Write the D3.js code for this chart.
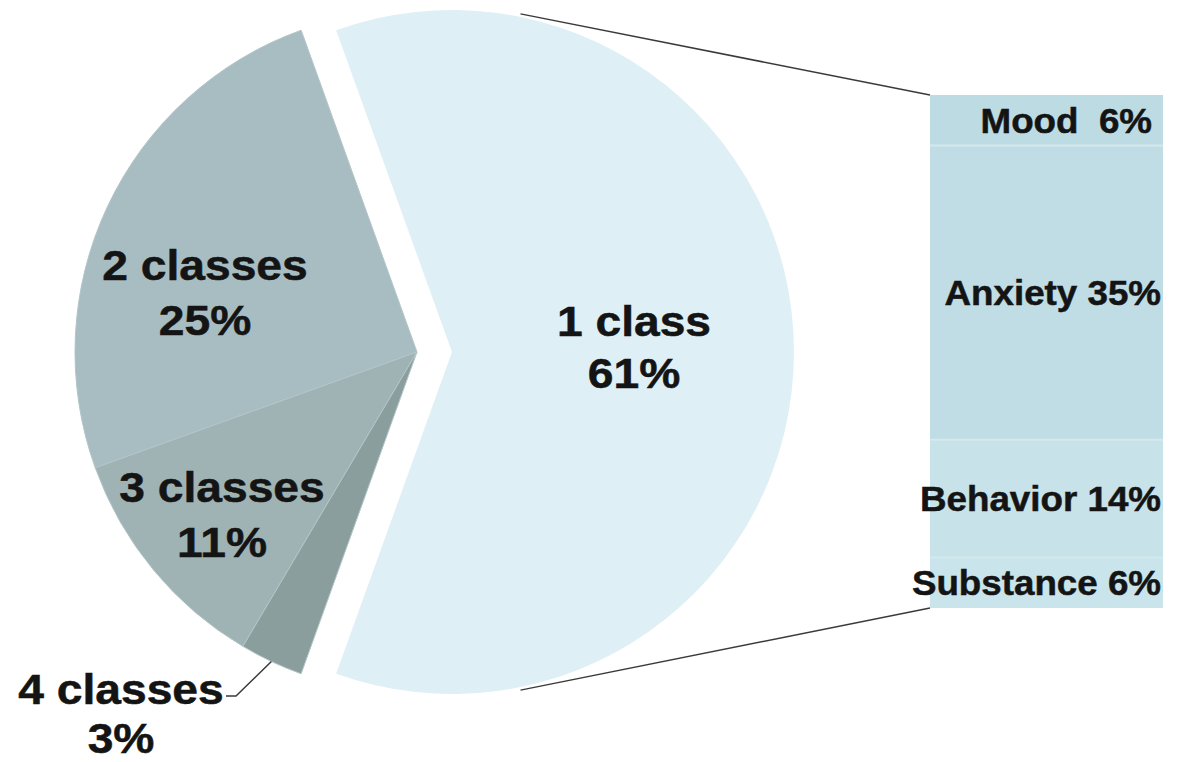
<!DOCTYPE html>
<html>
<head>
<meta charset="utf-8">
<script src="https://cdn.jsdelivr.net/npm/d3@7"></script>
<style>
  html, body { margin: 0; padding: 0; background: #ffffff; }
  svg { display: block; }
  text { font-family: "Liberation Sans", Arial, Helvetica, sans-serif; font-weight: bold; fill: #141414; stroke: #141414; stroke-width: 0.5px; }
</style>
</head>
<body>
<svg id="chart" width="1178" height="762"></svg>
<script>
// Number of classes with a diagnosis (share of children, %)
const pieCategories = ["1 class", "2 classes", "3 classes", "4 classes"];
const pieValues = [61, 25, 11, 3];
const pieColors = ["#dfeff6", "#a8bdc1", "#9fb3b4", "#8b9e9e"];

// Breakdown of the single-class group (%)
const barCategories = ["Mood", "Anxiety", "Behavior", "Substance"];
const barValues = [6, 35, 14, 6];
const barLabels = ["Mood  6%", "Anxiety 35%", "Behavior 14%", "Substance 6%"];
const barColors = ["#bddbe3", "#c0dce4", "#c7e2e8", "#c9e4ea"];

const svg = d3.select("#chart");

// ---- pie ----
const cx = 417, cy = 352, R = 342, explode = 35;
const bigShare = pieValues[0] / d3.sum(pieValues);
const half = Math.PI * bigShare;          // half of the exploded slice's sweep
const start = Math.PI / 2 + half;         // slice 0 centred on 3 o'clock

const pie = d3.pie().sort(null).value(d => d.v)
  .startAngle(start).endAngle(start - 2 * Math.PI);
const arcs = pie(pieCategories.map((c, i) => ({ c, v: pieValues[i], i })));
const arc = d3.arc().innerRadius(0).outerRadius(R);

const pieG = svg.append("g").attr("transform", `translate(${cx},${cy})`);
pieG.selectAll("path.slice").data(arcs).join("path")
  .attr("class", "slice")
  .attr("d", arc)
  .attr("fill", (d, i) => pieColors[i])
  .attr("stroke", (d, i) => i === 0 ? "none" : "#b3c5c8")
  .attr("stroke-width", 1)
  .attr("transform", (d, i) => i === 0 ? `translate(${explode},0)` : null);

// ---- stacked bar ----
const barX0 = 930, barX1 = 1163;
const y = d3.scaleLinear().domain([0, d3.sum(barValues)]).range([95, 608]);
const cum = d3.cumsum(barValues);
const segs = barValues.map((v, i) => ({ v, i, y0: i ? cum[i - 1] : 0, y1: cum[i] }));

const barG = svg.append("g");
barG.selectAll("rect").data(segs).join("rect")
  .attr("x", barX0).attr("width", barX1 - barX0)
  .attr("y", d => y(d.y0)).attr("height", d => y(d.y1) - y(d.y0))
  .attr("fill", d => barColors[d.i]);
barG.selectAll("line.sep").data(segs.slice(1)).join("line")
  .attr("class", "sep")
  .attr("x1", barX0).attr("x2", barX1)
  .attr("y1", d => y(d.y0)).attr("y2", d => y(d.y0))
  .attr("stroke", "#d4e9ee").attr("stroke-width", 2);

// ---- connector lines from the exploded slice to the bar ----
const connAngle = 0.2;   // angle from 12 o'clock where the connectors leave the arc
const bcx = cx + explode, rc = R + 3;
const connectors = [
  [[bcx + rc * Math.sin(connAngle), cy - rc * Math.cos(connAngle)], [barX0, y(0)]],
  [[bcx + rc * Math.sin(Math.PI - connAngle), cy - rc * Math.cos(Math.PI - connAngle)], [barX0, y(d3.sum(barValues))]]
];
svg.selectAll("line.conn").data(connectors).join("line")
  .attr("class", "conn")
  .attr("x1", d => d[0][0]).attr("y1", d => d[0][1])
  .attr("x2", d => d[1][0]).attr("y2", d => d[1][1])
  .attr("stroke", "#3a3a3a").attr("stroke-width", 1.5);

// ---- leader line for the smallest slice ----
const a4 = arcs[3];
const mid4 = (a4.startAngle + a4.endAngle) / 2;
const tip4 = [cx + R * Math.sin(mid4), cy - R * Math.cos(mid4)];
svg.append("path")
  .attr("d", d3.line()([[226, 696], [236, 696], tip4]))
  .attr("fill", "none").attr("stroke", "#3a3a3a").attr("stroke-width", 1.5);

// ---- pie labels ----
const pieLabelPos = [
  { x: 634, y: 336, gap: 52 },
  { x: 205, y: 280, gap: 55 },
  { x: 222, y: 502, gap: 55 },
  { x: 121, y: 704, gap: 49 }
];
const pl = svg.selectAll("g.plabel").data(arcs).join("g")
  .attr("class", "plabel")
  .attr("transform", (d, i) => `translate(${pieLabelPos[i].x},${pieLabelPos[i].y}) scale(1.1,1)`);
pl.append("text")
  .attr("text-anchor", "middle")
  .attr("font-size", 42)
  .selectAll("tspan")
  .data((d, i) => [pieCategories[i], pieValues[i] + "%"].map(t => ({ t, gap: pieLabelPos[i].gap })))
  .join("tspan")
  .attr("x", 0)
  .attr("y", (d, j) => j * d.gap)
  .text(d => d.t);

// ---- bar labels ----
const bl = barG.selectAll("g.blabel").data(segs).join("g")
  .attr("class", "blabel")
  .attr("transform", d => `translate(${barX1 - 2 - (d.i === 0 ? 9 : 0)},${(y(d.y0) + y(d.y1)) / 2 + 12.5}) scale(1.05,1)`);
bl.append("text")
  .attr("text-anchor", "end")
  .attr("font-size", 35)
  .style("white-space", "pre")
  .text(d => barLabels[d.i]);
</script>
</body>
</html>
